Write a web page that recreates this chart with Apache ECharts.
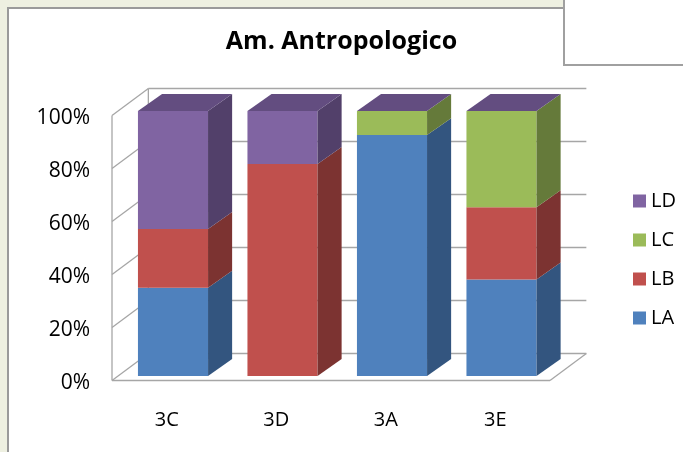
<!DOCTYPE html>
<html>
<head>
<meta charset="utf-8">
<script src="https://cdn.jsdelivr.net/npm/echarts@6/dist/echarts.min.js"></script>
<style>
html,body{margin:0;padding:0;background:#eef0e1;}
#c{width:683px;height:452px;}
</style>
</head>
<body>
<div id="c"></div>
<script>
// ---- data ----
const categories = ['3C', '3D', '3A', '3E'];
const LA = [33.3, 0, 90.9, 36.4];
const LB = [22.2, 80, 0, 27.3];
const LC = [0, 0, 9.1, 36.3];
const LD = [44.5, 20, 0, 0];
const seriesNames = ['LA', 'LB', 'LC', 'LD'];
const yTicks = [0, 20, 40, 60, 80, 100];
const titleText = 'Am. Antropologico';

// ---- styles ----
const frontColors = ['#4f81bd', '#c0504d', '#9bbb59', '#8064a2'];
const sideColors = ['#33557f', '#7c3331', '#657a3a', '#52406a'];
const topColor = '#634d80';
const wallLine = '#a6a6a6';

const values = [LA, LB, LC, LD];
// stacked data: [catIndex, base, top]
const stacked = values.map(function (arr, si) {
  return arr.map(function (v, ci) {
    let base = 0;
    for (let k = 0; k < si; k++) base += values[k][ci];
    return [ci, base, base + v];
  });
});

function barRender(si) {
  return function (params, api) {
    const ci = api.value(0), b = api.value(1), t = api.value(2);
    const band = api.size([1, 0])[0];
    const p0 = api.coord([ci, b]);
    const p1 = api.coord([ci, t]);
    const w = band * 0.64, off = band * 0.057, dx = band * 0.22, dy = band * 0.155;
    const x0 = p0[0] + off - w / 2, x1 = x0 + w;
    const yb = p0[1] - 7, yt = p1[1] - 7;
    const children = [];
    if (t - b > 0) {
      children.push({
        type: 'polygon',
        shape: { points: [[x0, yb], [x1, yb], [x1, yt], [x0, yt]] },
        style: { fill: frontColors[si] }
      });
      children.push({
        type: 'polygon',
        shape: { points: [[x1, yb], [x1 + dx, yb - dy], [x1 + dx, yt - dy], [x1, yt]] },
        style: { fill: sideColors[si] }
      });
    }
    if (si === 3) {
      const pt = api.coord([ci, 100]);
      const ytop = pt[1] - 7;
      children.push({
        type: 'polygon',
        shape: { points: [[x0, ytop], [x0 + dx, ytop - dy], [x1 + dx, ytop - dy], [x1, ytop]] },
        style: { fill: topColor }
      });
    }
    return { type: 'group', children: children };
  };
}

function wallRender(params, api) {
  const band = api.size([1, 0])[0];
  const L = api.coord([0, 0])[0] - band / 2;
  const R = api.coord([categories.length - 1, 0])[0] + band / 2;
  const dxB = band * 0.332, dyB = 27;
  const yOf = function (v) { return api.coord([0, v])[1] - 2.5; };
  const ls = { stroke: wallLine, lineWidth: 1.3 };
  const children = [];
  const line = function (a, b, c, d) {
    children.push({ type: 'line', shape: { x1: a, y1: b, x2: c, y2: d }, style: ls });
  };
  const y0 = yOf(0);
  children.push({
    type: 'polygon',
    shape: { points: [[L, y0], [R, y0], [R + dxB, y0 - dyB], [L + dxB, y0 - dyB]] },
    style: { fill: '#ffffff' }
  });
  yTicks.forEach(function (v) {
    const y = yOf(v);
    line(L + dxB, y - dyB, R + dxB, y - dyB);
    line(L, y, L + dxB, y - dyB);
  });
  const y100 = yOf(100);
  line(L, y0, L, y100);
  line(L + dxB, y0 - dyB, L + dxB, y100 - dyB);
  line(L, y0, R, y0);
  line(R, y0, R + dxB, y0 - dyB);
  return { type: 'group', children: children };
}

const series = [{
  type: 'custom',
  name: '_walls',
  renderItem: wallRender,
  data: [[0, 0, 0]],
  encode: { x: 0, y: 1 },
  silent: true,
  z: 1
}];
seriesNames.forEach(function (n, si) {
  series.push({
    type: 'custom',
    name: n,
    renderItem: barRender(si),
    data: stacked[si],
    encode: { x: 0, y: [1, 2] },
    itemStyle: { color: frontColors[si] },
    z: 3
  });
});

const chart = echarts.init(document.getElementById('c'), null, { renderer: 'canvas' });
chart.setOption({
  backgroundColor: '#eef0e1',
  animation: false,
  graphic: [
    { type: 'rect', shape: { x: 8, y: 8, width: 690, height: 460 },
      style: { fill: '#ffffff', stroke: '#9a9a9a', lineWidth: 2 }, z: -10 },
    { type: 'rect', shape: { x: 564, y: -10, width: 130, height: 75 },
      style: { fill: '#ffffff', stroke: '#a0a0a0', lineWidth: 2 }, z: -9 }
  ],
  title: {
    text: titleText,
    left: 'center',
    top: 29,
    padding: [0, 0, 0, 7],
    textStyle: { fontFamily: 'Open Sans', fontWeight: 'bold', fontSize: 25, color: '#000' }
  },
  legend: {
    orient: 'vertical',
    left: 628,
    top: 186,
    data: ['LD', 'LC', 'LB', 'LA'],
    icon: 'rect',
    itemWidth: 13,
    itemHeight: 13,
    itemGap: 19,
    textStyle: { fontFamily: 'Open Sans', fontSize: 20, color: '#000', lineHeight: 20 }
  },
  grid: { left: 112, right: 133, top: 118, bottom: 69, containLabel: false },
  xAxis: {
    type: 'category',
    data: categories,
    axisLine: { show: false },
    axisTick: { show: false },
    splitLine: { show: false },
    axisLabel: { fontFamily: 'Open Sans', fontSize: 20, color: '#000', margin: 27, lineHeight: 20 }
  },
  yAxis: {
    type: 'value',
    min: 0,
    max: 100,
    interval: 20,
    axisLine: { show: false },
    axisTick: { show: false },
    splitLine: { show: false },
    axisLabel: { fontFamily: 'Open Sans', fontSize: 21, color: '#000', margin: 22, formatter: '{value}%' }
  },
  series: series
});
</script>
</body>
</html>
